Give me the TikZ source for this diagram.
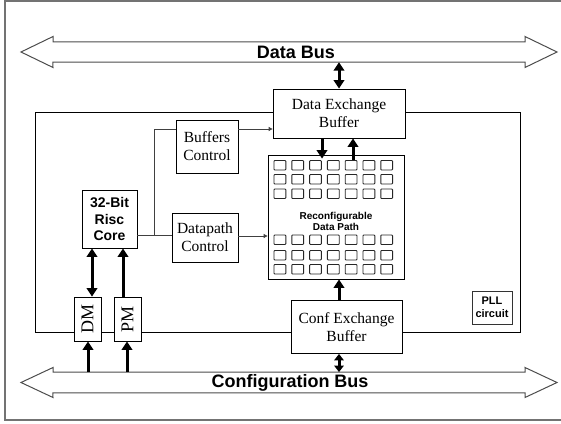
\documentclass[tikz,border=0pt]{standalone}
\usepackage{fontspec}
\setmainfont{Liberation Serif}
\newfontfamily\arialf{Liberation Sans}
\usetikzlibrary{arrows.meta}
\begin{document}
\begin{tikzpicture}[x=1pt,y=-1pt,
  box/.style={draw=black,line width=0.8pt,fill=white,inner sep=0pt,align=center,
    font=\fontsize{15.5}{18}\selectfont},
  busshaft/.style={inner sep=0pt,minimum width=472pt,minimum height=20pt},
  buslabel/.style={font=\arialf\bfseries\fontsize{18}{20}\selectfont,inner sep=0pt},
  busline/.style={draw=black!70,line width=1pt,line join=miter},
  thick arrow/.style={line width=3pt,-{Triangle[length=8.5pt,width=10.5pt]}},
  thick darrow/.style={line width=3pt,{Triangle[length=8.5pt,width=10.5pt]}-{Triangle[length=8.5pt,width=10.5pt]}},
  short darrow/.style={line width=3pt,{Triangle[length=6.5pt,width=9.5pt]}-{Triangle[length=6.5pt,width=9.5pt]}},
  thin line/.style={draw=black!75,line width=0.8pt},
  thin arrow/.style={thin line,-{Triangle[length=4pt,width=4pt]}},
  cell/.style={draw=black!85,line width=0.9pt,rounded corners=0.8pt}
]
\useasboundingbox (0,0) rectangle (561,423);
% outer frame
\draw[black!55,line width=1.5pt] (561,1) -- (5,1) -- (5,420) -- (561,420);

% buses
\node[busshaft] (databus) at (289,52) {};
\draw[busline] (21,52) -- (53,36.5) |- (databus.north east) -- (525,36.5) -- (557,52)
  -- (525,67.5) |- (databus.south west) -- (53,67.5) -- cycle;
\node[buslabel] (dblabel) at (296,52) {Data Bus};

\node[busshaft,minimum height=20.5pt] (confbus) at (289,382.5) {};
\draw[busline] (21,382.5) -- (53,367.5) |- (confbus.north east) -- (525,367.5) -- (557,382.5)
  -- (525,397.5) |- (confbus.south west) -- (53,397.5) -- cycle;
\node[buslabel] (cblabel) at (290,383) {Configuration Bus};

% inner board
\draw[black,line width=0.9pt] (35,112) rectangle (520,332);

% boxes
\node[box,minimum width=132pt,minimum height=49pt] (deb) at (339,113.5) {Data Exchange\\Buffer};
\node[box,minimum width=111pt,minimum height=53pt] (ceb) at (346.5,327) {Conf Exchange\\Buffer};
\node[box,minimum width=62pt,minimum height=53pt] (bc) at (207,146.5) {Buffers\\Control};
\node[box,minimum width=66pt,minimum height=49pt] (dc) at (205,237.5) {Datapath\\Control};
\node[box,minimum width=55pt,minimum height=58pt,
  font=\arialf\bfseries\fontsize{14}{16.5}\selectfont] (core) at (109.5,219) {32-Bit\\Risc\\Core};
\node[box,minimum width=27pt,minimum height=44pt,font=\fontsize{18}{20}\selectfont] (dm) at (87.5,319) {\rotatebox{90}{DM}};
\node[box,minimum width=27pt,minimum height=44pt,font=\fontsize{18}{20}\selectfont] (pm) at (127.5,319) {\rotatebox{90}{PM}};
\node[box,minimum width=40pt,minimum height=33pt,draw=black!80,
  font=\arialf\bfseries\fontsize{11}{12.5}\selectfont] (pll) at (492,307.5) {PLL\\circuit};
\node[box,minimum width=136pt,minimum height=124pt] (grid) at (336,217) {};
\node[inner sep=0pt,align=center,font=\arialf\bfseries\fontsize{10}{11.5}\selectfont]
  (gridlabel) at (336,221.5) {Reconfigurable\\Data Path};

% grid cells
\foreach \c in {0,...,6}{
  \foreach \r in {160.5,174.5,189,235,250.5,264.5}{
    \draw[cell] ({274+17.8*\c},\r) rectangle ++(11.8,9.5);
  }
}

% thick connectors
\draw[thick darrow] (databus.south -| 339,0) -- (deb.north);
\draw[thick arrow] (deb.south -| 322,0) -- ([yshift=-4pt]grid.north -| 322,0);
\draw[thick arrow] ([yshift=-5pt]grid.north -| 353,0) -- (deb.south -| 353,0);
\draw[thick arrow] (ceb.north -| 339,0) -- (grid.south -| 339,0);
\draw[short darrow] (ceb.south -| 339,0) -- (confbus.north -| 339,0);
\draw[thick arrow] (confbus.north -| 88,0) -- (dm.south -| 88,0);
\draw[thick arrow] (confbus.north -| 127,0) -- (pm.south -| 127,0);
\draw[thick darrow] (dm.north -| 92,0) -- (core.south -| 92,0);
\draw[thick arrow] (pm.north -| 123,0) -- (core.south -| 123,0);

% thin connectors
\coordinate (branch) at (154,235.5);
\draw[thin line] (core.east |- branch) -- (branch) -- (dc.west |- branch);
\draw[thin line] (branch) |- (bc.west |- 0,129);
\draw[thin arrow] (bc.east |- 0,129) -- (deb.west |- 0,129);
\draw[thin arrow] (dc.east |- 0,236) -- (grid.west |- 0,236);
\end{tikzpicture}
\end{document}
